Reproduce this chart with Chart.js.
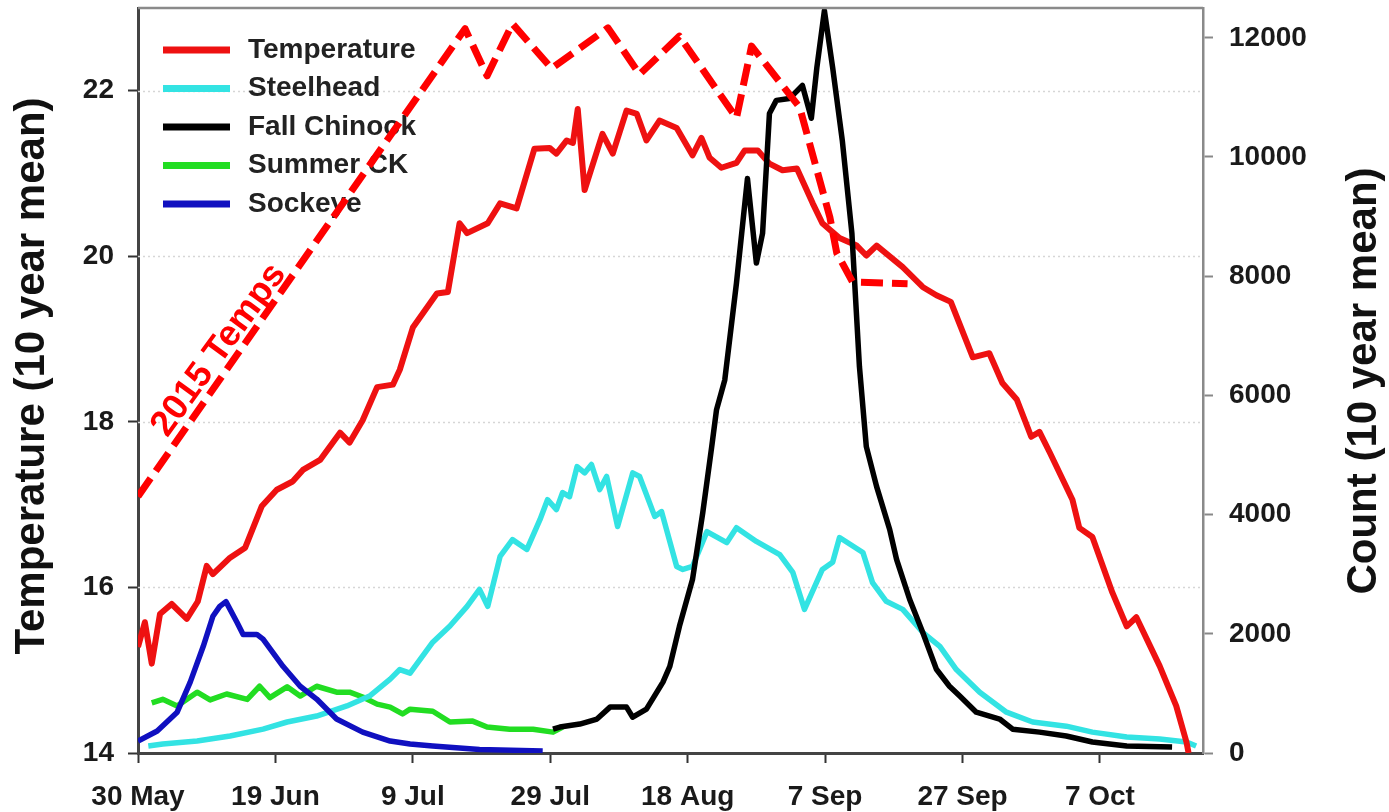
<!DOCTYPE html>
<html lang="en">
<head>
<meta charset="utf-8">
<title>Temperature and counts (10 year mean)</title>
<style>
  html, body { margin: 0; padding: 0; background: #fff; }
  #wrap { position: relative; width: 1389px; height: 812px; }
</style>
</head>
<body>
<div id="wrap"><canvas id="myChart"></canvas></div>
<script src="https://cdn.jsdelivr.net/npm/chart.js"></script>
<script>
// tick labels, one every 20 days from 30 May
const dateLabels = ['30 May', '19 Jun', '9 Jul', '29 Jul', '18 Aug', '7 Sep', '27 Sep', '7 Oct'];
const countTicks = [0, 2000, 4000, 6000, 8000, 10000, 12000];

// Temperature, 10 year mean (deg C) -- x is days since 30 May
const tempDays = [0, 1, 2, 3.2, 4.9, 7.1, 8.7, 10, 10.9, 13.4, 15.6, 18, 20.2, 22.5, 24, 26.5, 29.4, 30.8, 32.7, 34.8,
  37.1, 38.1, 40, 43.5, 45.1, 46.8, 47.9, 50.9, 52.7, 55.1, 57.7, 59.9, 60.9, 62.4, 63.3, 64, 65, 67.6, 69.1, 71.1,
  72.6, 74, 75.9, 78.4, 80.7, 82, 83.2, 84.9, 87.1, 88.3, 90.2, 91.9, 93.8, 95.9, 98.2, 99.6, 102.1, 104.6, 106, 107.5,
  111.3, 114.2, 116.2, 118.3, 121.5, 123.9, 125.8, 127.9, 130, 131.2, 132.7, 136, 137, 138.9, 141.8, 143.9, 145.3,
  148.7, 151.1, 152.6, 152.9];
const tempVals = [15.28, 15.58, 15.08, 15.68, 15.8, 15.62, 15.83, 16.26, 16.16, 16.36, 16.48, 16.98, 17.18, 17.28, 17.42, 17.54, 17.87, 17.75, 18.02, 18.42,
  18.45, 18.63, 19.14, 19.55, 19.57, 20.4, 20.28, 20.4, 20.64, 20.58, 21.3, 21.31, 21.24, 21.4, 21.37, 21.78, 20.8, 21.48, 21.24, 21.76,
  21.72, 21.4, 21.64, 21.55, 21.22, 21.43, 21.19, 21.07, 21.13, 21.28, 21.28, 21.12, 21.04, 21.06, 20.64, 20.4, 20.22, 20.13, 20.01, 20.13,
  19.87, 19.63, 19.53, 19.45, 18.78, 18.83, 18.47, 18.27, 17.82, 17.88, 17.63, 17.06, 16.72, 16.61, 15.94, 15.53, 15.64,
  15.05, 14.57, 14.13, 14.0];

// 2015 temperatures (deg C)
const t2015Days = [0, 47.6, 50.8, 54.5, 60.2, 68.4, 73, 78.8, 87.1, 89.3, 96.3, 100.7, 101.7, 104, 112];
const t2015Vals = [17.1, 22.75, 22.18, 22.81, 22.27, 22.76, 22.2, 22.66, 21.67, 22.54, 21.8, 20.47, 20.04, 19.69, 19.67];

// Steelhead count
const steelheadDays = [1.5, 3.6, 8.6, 13.4, 18.2, 21.7, 26, 30.4, 33.7, 36.7, 38.1, 39.6, 42.9, 45.4, 47.9, 49.7, 50.9, 52.7,
  54.5, 56.6, 58.5, 59.6, 60.9, 61.8, 62.8, 63.9, 65, 66, 67.2, 68.2, 69.8, 72, 73, 75.2, 76.2, 78.4, 79.3, 80.7, 82.8,
  85.7, 87.1, 90, 93.4, 95.3, 97, 99.6, 101.1, 102.1, 105.5, 106.9, 108.9, 111.3, 114.2, 116.7, 119.1, 122.5, 126.4,
  130.2, 135.1, 138.9, 143.9, 148.7, 152.6, 154];
const steelheadVals = [117, 150, 200, 285, 400, 520, 620, 790, 955, 1240, 1400, 1340, 1860, 2130, 2460, 2745, 2460, 3300,
  3580, 3415, 3915, 4250, 4085, 4370, 4300, 4805, 4700, 4840, 4420, 4640, 3800, 4700, 4640, 3970, 4050, 3130, 3080, 3130, 3715,
  3530, 3780, 3550, 3330, 3030, 2410, 3080, 3200, 3615, 3365, 2860, 2545, 2410, 2025, 1790, 1400, 1020, 685,
  520, 450, 350, 270, 235, 185, 117];

// Fall Chinook count
const chinookDays = [60.4, 61.4, 64.3, 66.8, 68.7, 71.1, 72, 74, 76.4, 77.4, 78.8, 80.7, 82.2, 83.5, 84.2, 85.4, 87.1, 88.7,
  90, 90.9, 91.9, 92.9, 94.8, 96.7, 98, 98.8, 99.9, 101.1, 102.5, 103.9, 105, 106, 107.5, 109.4, 110.4, 112.3, 114.2,
  116.2, 118.1, 119.6, 122, 125.4, 127.3, 131.2, 135.1, 138.9, 143.9, 150.5];
const chinookVals = [400, 435, 485, 570, 770, 770, 600, 735, 1190, 1455, 2125, 2910, 4035, 5140, 5760, 6260, 7885, 9640,
  8220, 8720, 10730, 10950, 10980, 11200, 10650, 11500, 12455, 11500, 10280, 8720, 6480, 5140, 4470, 3750, 3250, 2580, 2025,
  1405, 1120, 955, 685, 570, 400, 350, 285, 185, 117, 100];

// Summer Chinook count
const summerDays = [2, 3.6, 5.7, 8.6, 10.5, 12.9, 15.9, 17.7, 19.2, 21.7, 23.6, 26, 28.9, 30.8, 32.7, 34.8, 36.7, 38.5,
  39.6, 42.9, 45.4, 48.7, 50.8, 54.1, 57.5, 60.4, 61.8];
const summerVals = [840, 900, 790, 1020, 890, 990, 900, 1120, 930, 1110, 955, 1120, 1020, 1020, 940, 820, 770, 655,
  735, 700, 520, 535, 435, 400, 400, 350, 435];

// Sockeye count
const sockeyeDays = [0, 2.8, 5.7, 7.6, 9.5, 10.9, 11.9, 12.8, 14.4, 15.3, 17.3, 18.2, 21.1, 23.6, 26, 28.9, 32.7, 36.7,
  39.6, 42.9, 49.7, 58.9];
const sockeyeVals = [200, 370, 685, 1190, 1790, 2295, 2460, 2540, 2195, 1990, 1990, 1910, 1455, 1120, 905, 570, 350, 200,
  150, 117, 60, 35];

function pts(xs, ys) {
  return xs.map((x, i) => ({ x: x, y: ys[i] }));
}

const FONT = '"Liberation Sans", Arial, sans-serif';

// faint dotted grid at the temperature ticks
const dottedGrid = {
  id: 'dottedGrid',
  beforeDatasetsDraw(chart) {
    const ctx = chart.ctx, a = chart.chartArea, s = chart.scales.yT;
    ctx.save();
    ctx.strokeStyle = '#d6d6d6';
    ctx.lineWidth = 1.5;
    ctx.setLineDash([2, 3]);
    s.ticks.forEach(t => {
      if (t.value === s.min) return;
      const y = Math.round(s.getPixelForValue(t.value)) + 0.5;
      ctx.beginPath(); ctx.moveTo(a.left, y); ctx.lineTo(a.right, y); ctx.stroke();
    });
    ctx.restore();
  }
};

// legend inside the plot, upper left
const insideLegend = {
  id: 'insideLegend',
  beforeDatasetsDraw(chart) {
    const ctx = chart.ctx, a = chart.chartArea;
    ctx.save();
    ctx.font = 'bold 28px ' + FONT;
    ctx.textBaseline = 'middle';
    let row = 0;
    chart.data.datasets.forEach(ds => {
      if (ds.noLegend) return;
      const y = a.top + 42 + row * 38.5;
      ctx.strokeStyle = ds.borderColor;
      ctx.lineWidth = 7;
      ctx.beginPath(); ctx.moveTo(a.left + 25, y); ctx.lineTo(a.left + 92, y); ctx.stroke();
      ctx.fillStyle = '#222';
      ctx.fillText(ds.label, a.left + 110, y);
      row++;
    });
    ctx.restore();
  }
};

// frame top, axis titles and the 2015 label
const extras = {
  id: 'extras',
  afterDraw(chart) {
    const ctx = chart.ctx, a = chart.chartArea;
    ctx.save();
    ctx.strokeStyle = '#8a8a8a';
    ctx.lineWidth = 2.5;
    ctx.beginPath(); ctx.moveTo(a.left, a.top); ctx.lineTo(a.right, a.top); ctx.stroke();

    ctx.fillStyle = '#111';
    ctx.font = 'bold 42px ' + FONT;
    ctx.textAlign = 'center';
    ctx.textBaseline = 'middle';
    ctx.save();
    ctx.translate(32, 376);
    ctx.rotate(-Math.PI / 2);
    ctx.fillText('Temperature (10 year mean)', 0, 0);
    ctx.restore();
    ctx.save();
    ctx.translate(1364, 381);
    ctx.rotate(-Math.PI / 2);
    ctx.fillText('Count (10 year mean)', 0, 0);
    ctx.restore();

    ctx.fillStyle = '#ff0000';
    ctx.font = 'bold 36px ' + FONT;
    ctx.translate(219, 350);
    ctx.rotate(-54 * Math.PI / 180);
    ctx.fillText('2015 Temps', 0, 0);
    ctx.restore();
  }
};

// keep the plot box where the original has it
function noPad(s) {
  s.paddingTop = 0;
  s.paddingBottom = 0;
  s.paddingLeft = 0;
  s.paddingRight = 0;
}

const tickFont = { family: FONT, size: 28, weight: 'bold' };

const data = {
  datasets: [
    { label: 'Temperature', data: pts(tempDays, tempVals), yAxisID: 'yT', borderColor: '#ee1111', borderWidth: 6, order: 2 },
    { label: 'Steelhead', data: pts(steelheadDays, steelheadVals), yAxisID: 'yC', borderColor: '#33e3e3', borderWidth: 5.5, order: 4 },
    { label: 'Fall Chinook', data: pts(chinookDays, chinookVals), yAxisID: 'yC', borderColor: '#000000', borderWidth: 5.5, order: 1 },
    { label: 'Summer CK', data: pts(summerDays, summerVals), yAxisID: 'yC', borderColor: '#22dd22', borderWidth: 5.5, order: 5 },
    { label: 'Sockeye', data: pts(sockeyeDays, sockeyeVals), yAxisID: 'yC', borderColor: '#1010c0', borderWidth: 5.5, order: 3 },
    { label: '2015 Temps', data: pts(t2015Days, t2015Vals), yAxisID: 'yT', borderColor: '#ff0000', borderWidth: 7,
      borderDash: [22, 9], noLegend: true, order: 0 }
  ]
};

const config = {
  type: 'line',
  data,
  plugins: [dottedGrid, insideLegend, extras],
  options: {
    responsive: true,
    maintainAspectRatio: false,
    animation: false,
    layout: { padding: { top: 8, left: 0, right: 0, bottom: 0 } },
    elements: {
      point: { radius: 0 },
      line: { tension: 0, borderJoinStyle: 'round', fill: false }
    },
    plugins: {
      legend: { display: false },
      tooltip: { enabled: false }
    },
    scales: {
      x: {
        type: 'linear',
        position: 'bottom',
        min: 0,
        max: 155,
        afterFit: s => { s.height = 59; noPad(s); },
        ticks: {
          stepSize: 20,
          includeBounds: false,
          autoSkip: false,
          maxRotation: 0,
          padding: 17,
          color: '#1a1a1a',
          font: tickFont,
          callback: v => dateLabels[v / 20] || ''
        },
        grid: { drawOnChartArea: false, tickLength: 10, tickColor: '#333', tickWidth: 2 },
        border: { color: '#444', width: 3 }
      },
      yT: {
        type: 'linear',
        position: 'left',
        min: 14,
        max: 23,
        afterFit: s => { s.width = 138; noPad(s); },
        ticks: { stepSize: 2, includeBounds: false, padding: 14, color: '#1a1a1a', font: tickFont },
        grid: { drawOnChartArea: false, tickLength: 10, tickColor: '#333', tickWidth: 2 },
        border: { color: '#444', width: 3 }
      },
      yC: {
        type: 'linear',
        position: 'right',
        min: 0,
        max: 12500,
        afterBuildTicks: s => { s.ticks = countTicks.map(v => ({ value: v })); },
        afterFit: s => { s.width = 186; noPad(s); },
        ticks: { padding: 16, color: '#1a1a1a', font: tickFont, callback: v => String(v) },
        grid: { drawOnChartArea: false, tickLength: 10, tickColor: '#888', tickWidth: 2 },
        border: { color: '#8a8a8a', width: 2.5 }
      }
    }
  }
};

const myChart = new Chart(document.getElementById('myChart'), config);
</script>
</body>
</html>
